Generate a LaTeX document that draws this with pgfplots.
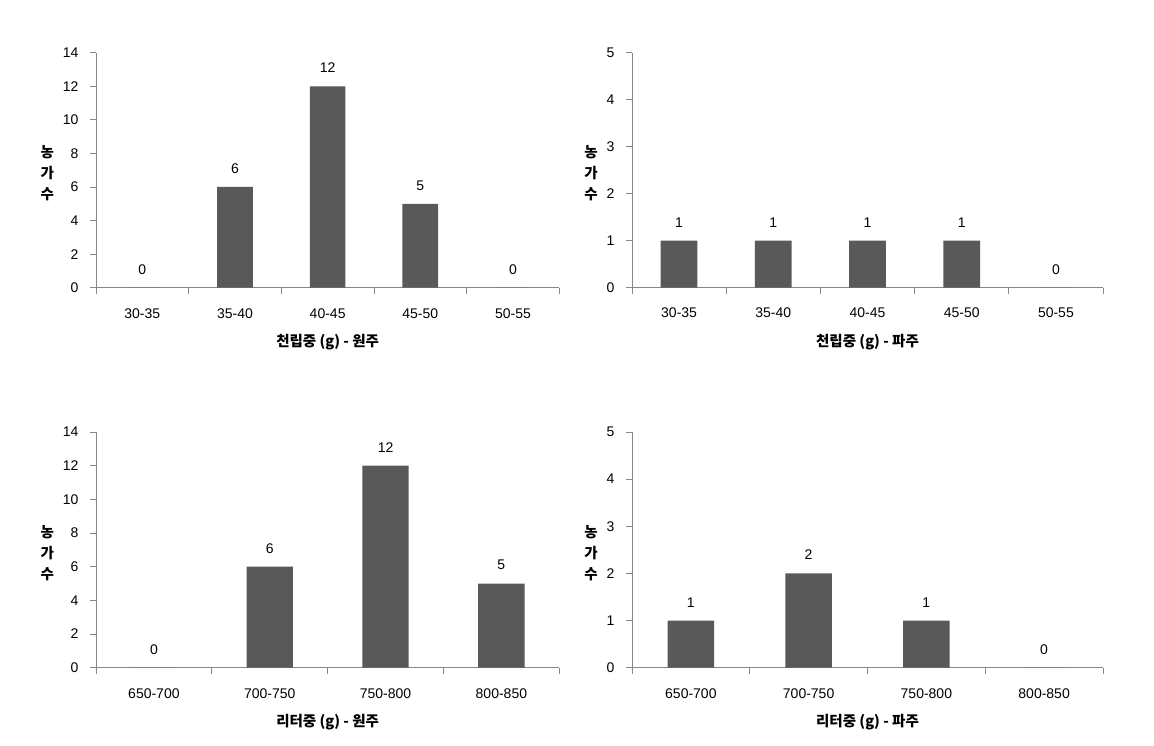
\documentclass[border=0pt]{standalone}
\usepackage{pgfplots}
\pgfplotsset{compat=1.18}
\usepackage{fontspec}
\setmainfont{Liberation Sans}
\newfontfamily\kr{Noto Sans CJK KR}
\definecolor{bargray}{HTML}{595959}
\definecolor{axisgray}{HTML}{868686}
\pgfplotsset{
  excel/.style={
    scale only axis,
    anchor=south west,
    axis x line*=bottom, axis y line*=left,
    axis line style={axisgray, line width=0.8pt},
    tick style={axisgray, line width=0.8pt},
    tick align=outside,
    major tick length=6pt,
    ymin=0,
    ytick pos=left,
    x tick label as interval,
    ticklabel style={font=\fontsize{14}{16}\selectfont, text=black},
    xticklabel style={yshift=-11pt},
    yticklabel style={xshift=-8pt},
    /pgf/number format/assume math mode=true,
    ybar,
    nodes near coords,
    every node near coord/.append style={font=\fontsize{14}{16}\selectfont, text=black, yshift=10pt},
    ylabel={농\\가\\수},
    ylabel style={rotate=-90, at={(ticklabel cs:0.5)}, anchor=east, xshift=-2pt, yshift=-3pt, align=center, font=\kr\bfseries\fontsize{14.5}{21}\selectfont},
    xlabel style={font=\kr\bfseries\fontsize{14.5}{17}\selectfont, yshift=-9pt},
  },
  five/.style={xmin=-0.5, xmax=4.5, xtick={-0.5,0.5,...,4.5},
    xticklabels={30-35,35-40,40-45,45-50,50-55}},
  four/.style={xmin=-0.5, xmax=3.5, xtick={-0.5,0.5,...,3.5},
    xticklabels={650-700,700-750,750-800,800-850}},
}
\begin{document}
\begin{tikzpicture}
\path[use as bounding box] (0,0) rectangle (1154pt,746pt);
% top left
\begin{axis}[excel, five, at={(96pt,458.3pt)}, width=463.3pt, height=235pt,
  ymax=14, ytick={0,2,...,14}, bar width=0.385,
  xlabel={천립중 (g) - 원주}]
\addplot[fill=bargray, draw=none] coordinates {(0,0) (1,6) (2,12) (3,5) (4,0)};
\end{axis}
% top right
\begin{axis}[excel, five, at={(632pt,458.3pt)}, width=471pt, height=235pt,
  ymax=5, ytick={0,1,...,5}, bar width=0.39,
  xlabel={천립중 (g) - 파주}]
\addplot[fill=bargray, draw=none] coordinates {(0,1) (1,1) (2,1) (3,1) (4,0)};
\end{axis}
% bottom left
\begin{axis}[excel, four, at={(96pt,78.3pt)}, width=463.3pt, height=235.7pt,
  ymax=14, ytick={0,2,...,14}, bar width=0.40,
  xlabel={리터중 (g) - 원주}]
\addplot[fill=bargray, draw=none] coordinates {(0,0) (1,6) (2,12) (3,5)};
\end{axis}
% bottom right
\begin{axis}[excel, four, at={(632pt,78.3pt)}, width=471pt, height=235.7pt,
  ymax=5, ytick={0,1,...,5}, bar width=0.394,
  xlabel={리터중 (g) - 파주}]
\addplot[fill=bargray, draw=none] coordinates {(0,1) (1,2) (2,1) (3,0)};
\end{axis}
\end{tikzpicture}
\end{document}
